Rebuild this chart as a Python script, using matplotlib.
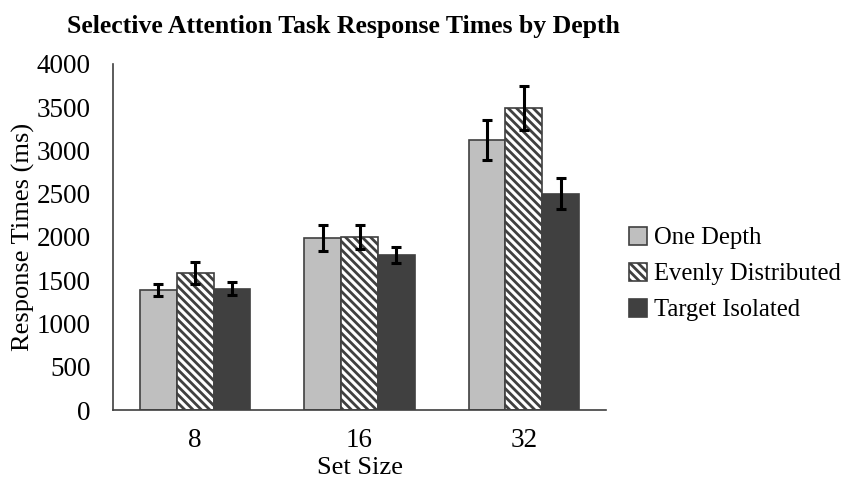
import matplotlib
matplotlib.use("Agg")
import matplotlib.pyplot as plt
import numpy as np

categories = ["8", "16", "32"]
series_names = ["One Depth", "Evenly Distributed", "Target Isolated"]
one_depth = [1390, 1990, 3120]
evenly = [1585, 2000, 3490]
target = [1400, 1790, 2500]
one_depth_err = [72, 150, 230]
evenly_err = [125, 140, 255]
target_err = [75, 92, 180]
yticks = [0, 500, 1000, 1500, 2000, 2500, 3000, 3500, 4000]

plt.rcParams['font.family'] = ['Liberation Serif', 'DejaVu Serif']
plt.rcParams['hatch.linewidth'] = 2.0
plt.rcParams['hatch.color'] = 'black'

fig = plt.figure(figsize=(8.46, 4.84), dpi=100)
ax = fig.add_axes([113/846, 1-410/484, 493/846, 346/484])

x = np.arange(len(categories))
w = 0.224
vals = [one_depth, evenly, target]
errs = [one_depth_err, evenly_err, target_err]
faces = ['#BFBFBF', 'white', '#404040']
hatches = [None, '\\\\\\\\', None]
for i in range(3):
    ax.bar(x + (i-1)*w, vals[i], w, color=faces[i], edgecolor='#404040',
           linewidth=1.2, hatch=hatches[i], label=series_names[i], zorder=2)
    ax.errorbar(x + (i-1)*w, vals[i], yerr=errs[i], fmt='none', ecolor='black',
                elinewidth=2.2, capsize=3.5, capthick=2.2, zorder=3)

ax.set_xlim(-0.5, 2.5)
ax.set_ylim(0, 4000)
ax.set_yticks(yticks)
ax.set_xticks(x)
ax.set_xticklabels(categories)
ax.tick_params(axis='both', length=0, labelsize=19.5, colors='black')
ax.tick_params(axis='y', pad=16)
ax.tick_params(axis='x', pad=13)
for s in ['top', 'right']:
    ax.spines[s].set_visible(False)
ax.spines['left'].set_color('#404040')
ax.spines['bottom'].set_color('#404040')
ax.spines['left'].set_linewidth(1.2)
ax.spines['bottom'].set_linewidth(1.2)

ax.set_ylabel("Response Times (ms)", fontsize=19, labelpad=1)
ax.set_xlabel("Set Size", fontsize=19, labelpad=3)
fig.text(343/846, 1-27/484, "Selective Attention Task Response Times by Depth",
         fontsize=18.5, fontweight='bold', ha='center', va='center')

leg = ax.legend(loc='center left', bbox_to_anchor=(629/846, 1-274/484),
                bbox_transform=fig.transFigure, frameon=False, fontsize=17.7,
                handlelength=0.75, handleheight=0.75, handletextpad=0.25,
                labelspacing=0.55, borderpad=0, borderaxespad=0)

fig.savefig("out.png", dpi=100)
